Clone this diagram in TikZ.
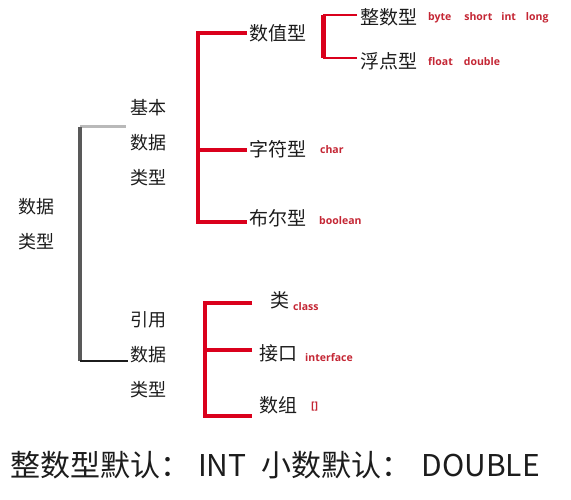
\documentclass[tikz,border=0pt]{standalone}
\usepackage{fontspec}
\setmainfont{Noto Sans CJK SC}
\newfontfamily\lblfont{Open Sans}
\usepackage{tikz}
\usetikzlibrary{calc,positioning}
\definecolor{barred}{RGB}{218,0,28}
\definecolor{lblred}{RGB}{196,38,52}
\definecolor{inkblack}{RGB}{28,28,28}

\begin{document}
\begin{tikzpicture}[x=1pt,y=-1pt,
    cn/.style={inner sep=0pt, anchor=west, text=inkblack, font=\fontsize{19}{19}\selectfont},
    stack/.style={inner sep=0pt, align=center, text=inkblack, font=\fontsize{18}{35}\selectfont},
    tag/.style={inner sep=0pt, anchor=west, text=lblred, font=\lblfont\bfseries\fontsize{10.5}{10.5}\selectfont},
    redbar/.style={barred, line width=4pt},
    thinred/.style={barred, line width=1.5pt},
    greybar/.style={gray!70!black, line width=3.5pt},
    blackbar/.style={inkblack, line width=2.5pt}]
    \useasboundingbox (0,0) rectangle (571,500);

    % Root and the two kinds
    \node[stack] (root) at (37,224) {数据\\类型};
    \node[stack] (basic) at (148,143) {基本\\数据\\类型};
    \node[stack] (ref) at (148,355) {引用\\数据\\类型};

    % Grey bracket
    \coordinate (gtop) at ($(basic.west)+(-4,-16)$);
    \coordinate (gbot) at ($(ref.west)+(-2,6)$);
    \coordinate (gcorner) at (80,361);
    \draw[greybar, gray!55, line width=3pt] (gtop) -- (80,127);
    \draw[greybar] (80,127) -- (gcorner);
    \draw[blackbar] (gcorner) -- (gbot);

    % Basic types
    \node[cn] (num) at (249,33) {数值型};
    \node[cn] (chr) at (249,149) {字符型};
    \node[cn] (bool) at (249,218) {布尔型};
    \node[tag] (chrtag) at (320,150) {char};
    \node[tag] (booltag) at (319,221) {boolean};

    \draw[redbar] ($(num.west)+(-2,0)$) -- ++(-49,0) |- ($(bool.west)+(-2,4)$);
    \draw[redbar] ($(chr.west)+(-2,1)$) -- ++(-49,0);

    % Numeric types
    \node[cn] (intn) at (360,17) {整数型};
    \node[cn] (flt) at (360,61) {浮点型};
    \node[tag] (inttag) at (428,18) {byte\hspace{13pt}short\hspace{9pt}int\hspace{10pt}long};
    \node[tag] (flttag) at (428,62) {float\hspace{11pt}double};

    \coordinate (s1) at ($(intn.west)+(-37,-2)$);
    \coordinate (s2) at ($(flt.west)+(-37,-3)$);
    \draw[thinred] ($(intn.west)+(-3,-2)$) -- (s1);
    \draw[thinred] ($(flt.west)+(-3,-3)$) -- (s2);
    \draw[barred, line width=5pt] (s1) -- (s2);

    % Reference types
    \node[cn] (cls) at (270,300) {类};
    \node[cn] (iface) at (259,353) {接口};
    \node[cn] (arr) at (259,405) {数组};
    \node[tag] (clstag) at (293,307) {class};
    \node[tag] (ifacetag) at (305,358) {interface};
    \node[tag] (arrtag) at (311,407) {[]};

    \draw[redbar] ($(cls.west)+(-18,3)$) -| ($(arr.west)+(-54,11)$) -- ($(arr.west)+(-7,11)$);
    \draw[redbar] ($(iface.west)+(-7,-3)$) -- ++(-47,0);

    % Note at the bottom
    \node[inner sep=0pt, anchor=west, text=inkblack, font=\fontsize{30}{30}\selectfont] (note) at (10,465)
         {整数型默认：\hspace{8pt}INT\hspace{15pt}小数默认：\hspace{10pt}DOUBLE};
\end{tikzpicture}
\end{document}
